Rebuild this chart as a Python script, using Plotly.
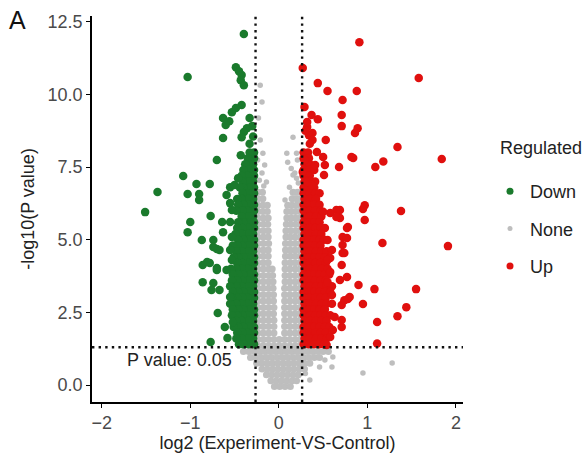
import plotly.graph_objects as go

# ---------------- data ----------------
# Down-regulated: scattered points (log2FC, -log10 p)
down_sparse = [
    (-0.395, 12.08), (-1.03, 10.60), (-0.485, 10.94), (-0.45, 10.80), (-0.42, 10.67), (-0.43, 10.49), (-0.395, 10.32),
    (-0.42, 9.64), (-0.485, 9.53), (-0.53, 9.39), (-0.63, 9.19), (-0.56, 9.08), (-0.60, 8.95), (-0.33, 9.19),
    (-0.30, 8.91), (-0.36, 8.84), (-0.395, 8.71), (-0.42, 8.53), (-0.63, 8.50), (-0.43, 7.91), (-0.70, 7.74),
    (-1.08, 7.19), (-0.78, 6.92), (-0.93, 6.92), (-1.03, 6.57), (-0.90, 6.57), (-0.90, 6.37), (-1.37, 6.64),
    (-1.51, 5.95), (-1.00, 5.61), (-0.77, 5.82), (-1.03, 5.26), (-0.87, 4.99), (-0.74, 4.99), (-0.70, 4.68),
    (-0.86, 4.13), (-0.78, 4.20), (-0.70, 4.03), (-0.81, 4.23), (-0.86, 3.54), (-0.74, 3.51), (-0.76, 3.27),
    (-0.67, 3.27), (-0.69, 2.48), (-0.77, 1.48), (-0.58, 1.62), (-0.61, 2.00), (-0.52, 2.17), (-0.55, 3.03),
    (-0.55, 6.81), (-0.59, 6.54), (-0.50, 6.88), (-0.46, 7.12), (-0.55, 6.26), (-0.53, 6.02), (-0.64, 5.61),
    (-0.55, 5.61), (-0.63, 5.26), (-0.53, 5.09), (-0.67, 4.65), (-0.74, 4.75), (-0.55, 4.65), (-0.53, 4.30),
    (-0.59, 3.96), (-0.70, 3.96), (-0.33, 8.30), (-0.29, 8.55),
]
# Down-regulated: dense band rows [y, x...]
down_rows = [
    [8.0, -0.28, -0.33], [7.8, -0.28, -0.35], [7.6, -0.29, -0.34, -0.38], [7.4, -0.28, -0.34, -0.40],
    [7.2, -0.28, -0.35, -0.42], [7.0, -0.29, -0.35, -0.41], [6.8, -0.28, -0.34, -0.40, -0.44],
    [6.6, -0.28, -0.35, -0.41], [6.4, -0.29, -0.35, -0.42, -0.47], [6.2, -0.28, -0.34, -0.40, -0.46],
    [6.0, -0.28, -0.35, -0.41, -0.48], [5.8, -0.29, -0.35, -0.42], [5.6, -0.28, -0.34, -0.40, -0.46],
    [5.4, -0.28, -0.35, -0.41, -0.47], [5.2, -0.29, -0.35, -0.42, -0.49], [5.0, -0.28, -0.34, -0.40, -0.46],
    [4.8, -0.28, -0.35, -0.41, -0.47, -0.52], [4.6, -0.29, -0.35, -0.42, -0.48],
    [4.4, -0.28, -0.34, -0.40, -0.46, -0.51], [4.2, -0.28, -0.35, -0.41, -0.47],
    [4.0, -0.29, -0.35, -0.42, -0.48, -0.54], [3.8, -0.28, -0.34, -0.40, -0.46, -0.52],
    [3.6, -0.28, -0.35, -0.41, -0.47, -0.53], [3.4, -0.29, -0.35, -0.42, -0.48, -0.55],
    [3.2, -0.28, -0.34, -0.40, -0.46, -0.52], [3.0, -0.28, -0.35, -0.41, -0.47, -0.53],
    [2.8, -0.29, -0.35, -0.42, -0.48, -0.55], [2.6, -0.28, -0.34, -0.40, -0.46, -0.52],
    [2.4, -0.28, -0.35, -0.41, -0.47, -0.53], [2.2, -0.29, -0.35, -0.42, -0.48],
    [2.0, -0.28, -0.34, -0.40, -0.46, -0.51], [1.8, -0.28, -0.35, -0.41, -0.47],
    [1.6, -0.29, -0.35, -0.42, -0.48], [1.4, -0.28, -0.34, -0.40, -0.45],
]

# Up-regulated: scattered points
up_sparse = [
    (0.91, 11.80), (0.27, 10.91), (1.58, 10.57), (0.44, 10.39), (0.55, 10.12), (0.88, 10.12), (0.72, 9.81),
    (0.29, 9.57), (0.71, 9.29), (0.37, 9.29), (0.44, 9.15), (0.71, 8.91), (0.89, 8.84), (0.86, 8.67),
    (0.32, 8.88), (0.38, 8.67), (0.34, 8.60), (0.38, 8.43), (0.53, 8.43), (1.34, 8.19), (1.84, 7.78),
    (0.84, 7.81), (0.43, 8.02), (0.50, 7.85), (0.29, 7.74), (0.52, 7.57), (0.41, 7.57), (0.68, 7.50),
    (1.18, 7.69), (1.09, 7.50), (0.51, 7.23), (0.33, 7.05), (0.37, 6.88), (0.65, 6.02), (0.97, 6.19),
    (0.95, 6.06), (1.38, 5.99), (0.97, 5.68), (0.58, 5.92), (0.50, 5.96), (0.69, 5.75), (0.78, 5.44),
    (1.17, 4.89), (1.91, 4.78), (1.08, 3.30), (1.55, 3.30), (1.44, 2.68), (1.34, 2.37), (1.11, 2.17),
    (1.11, 1.43), (0.90, 3.44), (0.95, 2.79), (0.78, 2.96), (0.80, 3.03), (0.71, 2.75), (0.77, 3.72),
    (0.69, 3.61), (0.55, 3.54), (0.72, 4.82), (0.72, 4.54), (0.72, 5.09), (0.77, 5.40), (0.58, 4.37),
    (0.58, 3.89), (0.71, 2.00), (0.63, 2.34), (0.61, 1.89), (0.58, 1.65), (0.54, 1.38), (0.60, 3.10),
    (0.74, 2.92), (0.71, 2.24), (0.32, 9.05), (0.30, 8.75), (0.35, 8.30), (0.82, 7.85), (0.27, 7.33),
    (0.32, 6.99), (0.69, 6.02), (0.65, 5.78), (0.77, 5.06), (0.55, 4.99), (0.60, 4.65), (0.74, 4.54),
    (0.55, 4.30), (0.71, 4.13),
]
up_rows = [
    [8.0, 0.28, 0.33], [7.8, 0.28, 0.34], [7.6, 0.29, 0.35], [7.4, 0.28, 0.34, 0.40], [7.2, 0.28, 0.35],
    [7.0, 0.29, 0.35, 0.41], [6.8, 0.28, 0.34, 0.40], [6.6, 0.28, 0.35, 0.41, 0.46], [6.4, 0.29, 0.35, 0.42],
    [6.2, 0.28, 0.34, 0.40, 0.46], [6.0, 0.28, 0.35, 0.41, 0.47], [5.8, 0.29, 0.35, 0.42, 0.48],
    [5.6, 0.28, 0.34, 0.40, 0.46], [5.4, 0.28, 0.35, 0.41, 0.47, 0.52], [5.2, 0.29, 0.35, 0.42, 0.48],
    [5.0, 0.28, 0.34, 0.40, 0.46, 0.51], [4.8, 0.28, 0.35, 0.41, 0.47], [4.6, 0.29, 0.35, 0.42, 0.48, 0.54],
    [4.4, 0.28, 0.34, 0.40, 0.46, 0.52], [4.2, 0.28, 0.35, 0.41, 0.47, 0.53],
    [4.0, 0.29, 0.35, 0.42, 0.48, 0.55], [3.8, 0.28, 0.34, 0.40, 0.46, 0.52, 0.57],
    [3.6, 0.28, 0.35, 0.41, 0.47, 0.53], [3.4, 0.29, 0.35, 0.42, 0.48, 0.54, 0.60],
    [3.2, 0.28, 0.34, 0.40, 0.46, 0.52, 0.58], [3.0, 0.28, 0.35, 0.41, 0.47, 0.53],
    [2.8, 0.29, 0.35, 0.42, 0.48, 0.54, 0.60], [2.6, 0.28, 0.34, 0.40, 0.46, 0.52],
    [2.4, 0.28, 0.35, 0.41, 0.47, 0.53, 0.58], [2.2, 0.29, 0.35, 0.42, 0.48, 0.54],
    [2.0, 0.28, 0.34, 0.40, 0.46, 0.52, 0.57], [1.8, 0.28, 0.35, 0.41, 0.47, 0.53],
    [1.6, 0.29, 0.35, 0.42, 0.48, 0.54], [1.4, 0.28, 0.34, 0.40, 0.46, 0.51],
]

# Not regulated
none_sparse = [
    (-0.21, 10.32), (-0.19, 9.74), (-0.23, 9.19), (-0.21, 8.43), (-0.24, 7.74), (-0.18, 7.98), (-0.16, 7.57),
    (-0.19, 7.30), (-0.14, 6.99), (-0.22, 7.05), (-0.17, 6.85), (0.16, 8.53), (0.10, 7.67), (0.18, 7.30),
    (0.20, 7.98), (0.16, 7.23), (0.12, 6.81), (0.18, 6.61), (0.07, 6.37), (0.09, 7.98), (0.21, 7.74),
    (0.20, 7.12), (0.14, 7.45), (0.22, 6.95), (0.46, 0.62), (0.60, 0.62), (0.61, 0.96), (0.95, 0.41),
    (1.28, 0.76), (0.35, 0.17), (0.52, 0.86), (0.30, 0.40),
]
none_left_rows = [
    [1.35, -0.235, -0.175, -0.115, -0.055], [1.57, -0.235, -0.175, -0.115, -0.055],
    [1.79, -0.235, -0.175, -0.115, -0.055], [2.01, -0.235, -0.175, -0.115, -0.055],
    [2.23, -0.235, -0.175, -0.115, -0.055], [2.45, -0.235, -0.175, -0.115, -0.06],
    [2.67, -0.235, -0.175, -0.115, -0.055], [2.89, -0.235, -0.175, -0.115, -0.06],
    [3.11, -0.235, -0.175, -0.115, -0.06], [3.33, -0.235, -0.175, -0.115, -0.065],
    [3.55, -0.235, -0.175, -0.115, -0.065], [3.77, -0.235, -0.175, -0.115, -0.07],
    [3.99, -0.235, -0.175, -0.115, -0.075], [4.21, -0.235, -0.175, -0.12], [4.43, -0.235, -0.175, -0.12],
    [4.65, -0.235, -0.175, -0.12], [4.87, -0.235, -0.175, -0.115], [5.09, -0.235, -0.175, -0.12],
    [5.31, -0.235, -0.175, -0.12], [5.53, -0.235, -0.175, -0.125], [5.75, -0.235, -0.175, -0.12],
    [5.97, -0.235, -0.18, -0.13], [6.19, -0.235, -0.18, -0.13], [6.41, -0.235, -0.18], [6.63, -0.235, -0.185],
]
none_right_rows = [
    [1.35, 0.005, 0.065, 0.125, 0.185, 0.24], [1.57, 0.005, 0.065, 0.125, 0.185, 0.24],
    [1.79, 0.065, 0.125, 0.185, 0.24], [2.01, 0.065, 0.125, 0.185, 0.24], [2.23, 0.065, 0.125, 0.185, 0.24],
    [2.45, 0.065, 0.125, 0.185, 0.24], [2.67, 0.065, 0.125, 0.185, 0.24], [2.89, 0.065, 0.125, 0.185, 0.24],
    [3.11, 0.065, 0.125, 0.185, 0.24], [3.33, 0.065, 0.125, 0.185, 0.24], [3.55, 0.07, 0.125, 0.185, 0.24],
    [3.77, 0.07, 0.125, 0.185, 0.24], [3.99, 0.07, 0.125, 0.185, 0.24], [4.21, 0.07, 0.13, 0.185, 0.24],
    [4.43, 0.075, 0.13, 0.185, 0.24], [4.65, 0.075, 0.13, 0.185, 0.24], [4.87, 0.075, 0.13, 0.185, 0.24],
    [5.09, 0.08, 0.13, 0.185, 0.24], [5.31, 0.08, 0.135, 0.19, 0.24], [5.53, 0.085, 0.135, 0.19, 0.24],
    [5.75, 0.09, 0.14, 0.19, 0.24], [5.97, 0.09, 0.14, 0.19, 0.24], [6.19, 0.10, 0.15, 0.20, 0.24],
    [6.41, 0.15, 0.20, 0.24], [6.63, 0.16, 0.21],
]
none_base_rows = [
    [1.15, -0.40, -0.34, -0.28, -0.22, -0.16, -0.10, -0.04, 0.02, 0.08, 0.14, 0.20, 0.26, 0.32, 0.38, 0.44, 0.50, 0.56],
    [0.95, -0.32, -0.26, -0.20, -0.14, -0.08, -0.02, 0.04, 0.10, 0.16, 0.22, 0.28, 0.34, 0.40, 0.46],
    [0.75, -0.25, -0.19, -0.13, -0.07, -0.01, 0.05, 0.11, 0.17, 0.23, 0.29, 0.35],
    [0.55, -0.19, -0.13, -0.07, -0.01, 0.05, 0.11, 0.17, 0.23, 0.29],
    [0.35, -0.14, -0.08, -0.02, 0.04, 0.10, 0.16, 0.22],
    [0.15, -0.09, -0.03, 0.03, 0.09, 0.15, 0.20],
    [-0.05, -0.05, 0.01, 0.07, 0.13],
]

fc_threshold = 0.263   # log2(1.2)
p_threshold = 1.301    # -log10(0.05)
x_ticks = [-2, -1, 0, 1, 2]
y_ticks = [0.0, 2.5, 5.0, 7.5, 10.0, 12.5]
y_ticklabels = ["0.0", "2.5", "5.0", "7.5", "10.0", "12.5"]

GREEN = "#1a7a2c"
RED = "#e0100e"
GREY = "#bebebe"
FONT = "Liberation Sans, Arial, Helvetica, sans-serif"
FS = 18


def from_pairs(pairs):
    return [p[0] for p in pairs], [p[1] for p in pairs]


def from_rows(rows):
    xs, ys = [], []
    for r in rows:
        for xv in r[1:]:
            xs.append(xv)
            ys.append(r[0])
    return xs, ys


fig = go.Figure()

for rows in (none_left_rows, none_right_rows, none_base_rows):
    gx, gy = from_rows(rows)
    fig.add_trace(go.Scatter(x=gx, y=gy, mode="markers", showlegend=False,
                             marker=dict(color=GREY, size=7, line=dict(width=0)), hoverinfo="skip"))
gx, gy = from_pairs(none_sparse)
fig.add_trace(go.Scatter(x=gx, y=gy, mode="markers", showlegend=False,
                         marker=dict(color=GREY, size=5.5, line=dict(width=0))))

for data, col in ((down_rows, GREEN), (up_rows, RED)):
    dx, dy = from_rows(data)
    fig.add_trace(go.Scatter(x=dx, y=dy, mode="markers", showlegend=False,
                             marker=dict(color=col, size=8.5, line=dict(width=0))))
for data, col in ((down_sparse, GREEN), (up_sparse, RED)):
    dx, dy = from_pairs(data)
    fig.add_trace(go.Scatter(x=dx, y=dy, mode="markers", showlegend=False,
                             marker=dict(color=col, size=8.5, line=dict(width=0))))

# legend entries
for name, col, sz in (("Down", GREEN, 7), ("None", GREY, 5), ("Up", RED, 7)):
    fig.add_trace(go.Scatter(x=[None], y=[None], mode="markers", name=name, legendgroup=name,
                             marker=dict(color=col, size=sz)))

dot = dict(color="#111111", width=2.4, dash="2.4px,4.2px")
fig.add_shape(type="line", xref="x", yref="paper", x0=-fc_threshold, x1=-fc_threshold, y0=0, y1=1, line=dot)
fig.add_shape(type="line", xref="x", yref="paper", x0=fc_threshold, x1=fc_threshold, y0=0, y1=1, line=dot)
fig.add_shape(type="line", xref="paper", yref="y", x0=0, x1=1, y0=p_threshold, y1=p_threshold, line=dot)

fig.add_annotation(x=-1.117, y=0.86, xref="x", yref="y", text="P value: 0.05", showarrow=False,
                   font=dict(family=FONT, size=FS, color="#222222"))
# panel letter and legend title (pixel positions converted to paper units: plot spans x 92..463, y 16..402)
fig.add_annotation(x=(7 - 92) / 371, y=(402 - 20) / 386, xref="paper", yref="paper", text="A", showarrow=False,
                   xanchor="left", yanchor="middle", font=dict(family=FONT, size=25, color="#111111"))
fig.add_annotation(x=(498 - 92) / 371, y=(402 - 148) / 386, xref="paper", yref="paper", text="Regulated",
                   showarrow=False, xanchor="left", yanchor="middle",
                   font=dict(family=FONT, size=FS, color="#222222"))

fig.update_layout(
    width=586, height=457,
    margin=dict(l=92, r=123, t=16, b=55, autoexpand=False),
    paper_bgcolor="white", plot_bgcolor="white",
    font=dict(family=FONT, size=FS, color="#222222"),
    legend=dict(x=(490 - 92) / 371, y=(402 - 173) / 386, xanchor="left", yanchor="top",
                font=dict(size=FS, color="#222222"), tracegroupgap=11, itemwidth=30),
    xaxis=dict(range=[-2.11, 2.08], tickvals=x_ticks, showgrid=False, zeroline=False, automargin=False,
               showline=True, linecolor="black", linewidth=1.6, ticks="outside", ticklen=4,
               tickwidth=1.4, tickcolor="black", tickfont=dict(size=FS, color="#4a4a4a"),
               title=dict(text="log2 (Experiment-VS-Control)", standoff=3,
                          font=dict(size=FS, color="#222222"))),
    yaxis=dict(range=[-0.585, 12.70], tickvals=y_ticks, ticktext=y_ticklabels, showgrid=False,
               zeroline=False, showline=True, linecolor="black", linewidth=1.6, ticks="outside",
               automargin=False,
               ticklen=4, tickwidth=1.4, tickcolor="black", tickfont=dict(size=FS, color="#4a4a4a"),
               title=dict(text="-log10(P value)", standoff=8, font=dict(size=FS, color="#222222"))),
)

fig.write_html("out.html", config={"displayModeBar": False},
               post_script="document.body.style.margin='0';document.body.style.padding='0';")
